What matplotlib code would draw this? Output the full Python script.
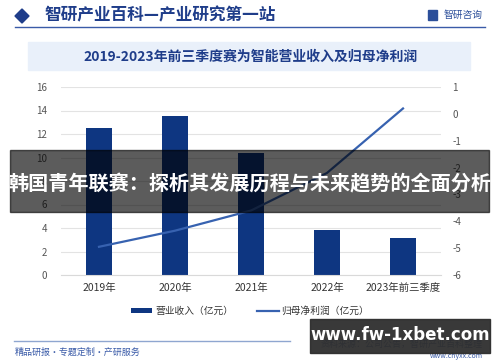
import matplotlib
matplotlib.use('Agg')
import matplotlib.pyplot as plt
from matplotlib.patches import Rectangle, Polygon
from matplotlib.lines import Line2D

plt.rcParams['font.family'] = ['Noto Sans CJK SC', 'DejaVu Sans']
plt.rcParams['axes.unicode_minus'] = False

# 数据
categories = ['2019年', '2020年', '2021年', '2022年', '2023年前三季度']
revenue = [12.5, 13.5, 10.4, 3.85, 3.15]        # 营业收入（亿元）
net_profit = [-4.95, -4.35, -3.6, -2.2, 0.2]     # 归母净利润（亿元）
left_ticks = [0, 2, 4, 6, 8, 10, 12, 14, 16]
right_ticks = [-6, -5, -4, -3, -2, -1, 0, 1]

navy = '#0e3681'
line_c = '#3762b0'
head_c = '#1f3d8a'

fig = plt.figure(figsize=(5, 3.62), dpi=100)
W, H = 500, 362

def fx(x):
    return x / W

def fy(y):
    return 1 - y / H

# 页眉
fig.patches.append(Polygon([[fx(15), fy(16)], [fx(22), fy(9)], [fx(29), fy(16)], [fx(22), fy(23)]],
                           closed=True, transform=fig.transFigure, color='#1f3d8a'))
fig.text(fx(44), fy(15), '智研产业百科—产业研究第一站', fontsize=12, color=head_c,
         fontweight='bold', va='center', ha='left')
fig.text(fx(483), fy(15), '智研咨询', fontsize=7, color='#2c4f9a', va='center', ha='right')
fig.patches.append(Rectangle((fx(428), fy(20)), fx(9), 10 / H, transform=fig.transFigure,
                             color='#2c4f9a'))
fig.lines.append(Line2D([fx(15), fx(485)], [fy(27), fy(27)], transform=fig.transFigure,
                        color='#3a5ba8', lw=1))

# 标题框
fig.patches.append(Rectangle((fx(28), fy(70)), fx(442), 28 / H, transform=fig.transFigure,
                             color='#e9f0fa', zorder=0))
fig.text(fx(251), fy(57), '2019-2023年前三季度赛为智能营业收入及归母净利润', fontsize=10,
         color=head_c, fontweight='bold', ha='center', va='center')

# 图表
ax1 = fig.add_axes([fx(61), fy(275), fx(380), 188 / H])
ax2 = ax1.twinx()

x = range(len(categories))
ax1.bar(x, revenue, width=0.33, color=navy, zorder=2, label='营业收入（亿元）')
ax2.plot(x, net_profit, color=line_c, lw=1.6, label='归母净利润（亿元）')

ax1.set_xlim(-0.5, 4.5)
ax1.set_ylim(0, 16)
ax1.set_yticks(left_ticks)
ax2.set_ylim(-6, 1)
ax2.set_yticks(right_ticks)
ax1.set_xticks(list(x))
ax1.set_xticklabels(categories)
ax1.grid(axis='y', color='#e3e3e3', lw=0.8, zorder=0)
ax1.set_axisbelow(True)

for a in (ax1, ax2):
    for s in a.spines.values():
        s.set_visible(False)
    a.tick_params(length=0, labelsize=7, colors='#555555')
ax1.spines['bottom'].set_visible(True)
ax1.spines['bottom'].set_color('#d9d9d9')
ax1.tick_params(axis='x', labelsize=7.5, colors='#333333', pad=6)
ax1.tick_params(axis='y', pad=10)
ax2.tick_params(axis='y', pad=8)

h1, l1 = ax1.get_legend_handles_labels()
h2, l2 = ax2.get_legend_handles_labels()
fig.legend(h1 + h2, l1 + l2, loc='center', bbox_to_anchor=(fx(250), fy(311)), ncol=2,
           frameon=False, fontsize=7, handlelength=2.2, handleheight=0.4,
           columnspacing=2.5, handletextpad=0.3, labelcolor='#333333')

# 页脚
fig.lines.append(Line2D([fx(14), fx(290)], [fy(341), fy(341)], transform=fig.transFigure,
                        color='#8fa6d0', lw=1))
fig.text(fx(15), fy(352), '精品研报・专题定制・产研服务', fontsize=6.5, color='#3a5ba8',
         va='center', ha='left')
fig.text(fx(483), fy(344), '资料来源：公司公告，智研产业百科整理', fontsize=6.5, color='#3a5ba8',
         va='center', ha='right')
fig.text(fx(483), fy(356), 'www.chyxx.com', fontsize=5, color='#3a5ba8', va='center', ha='right')

# 叠加层
fig.patches.append(Rectangle((fx(10), fy(212)), fx(479), 62 / H, transform=fig.transFigure,
                             color='black', alpha=0.64, zorder=10))
fig.text(fx(250), fy(184), '韩国青年联赛：探析其发展历程与未来趋势的全面分析', fontsize=14.5,
         color='white', fontweight='bold', ha='center', va='center', zorder=11)
fig.patches.append(Rectangle((fx(310), fy(353)), fx(180), 34 / H, transform=fig.transFigure,
                             color='#2e2e2e', alpha=0.95, zorder=10))
fig.text(fx(400), fy(335), 'www.fw-1xbet.com', fontsize=12, color='white',
         fontweight='bold', ha='center', va='center', zorder=11, family='DejaVu Sans')

fig.savefig('out.png', dpi=100)
